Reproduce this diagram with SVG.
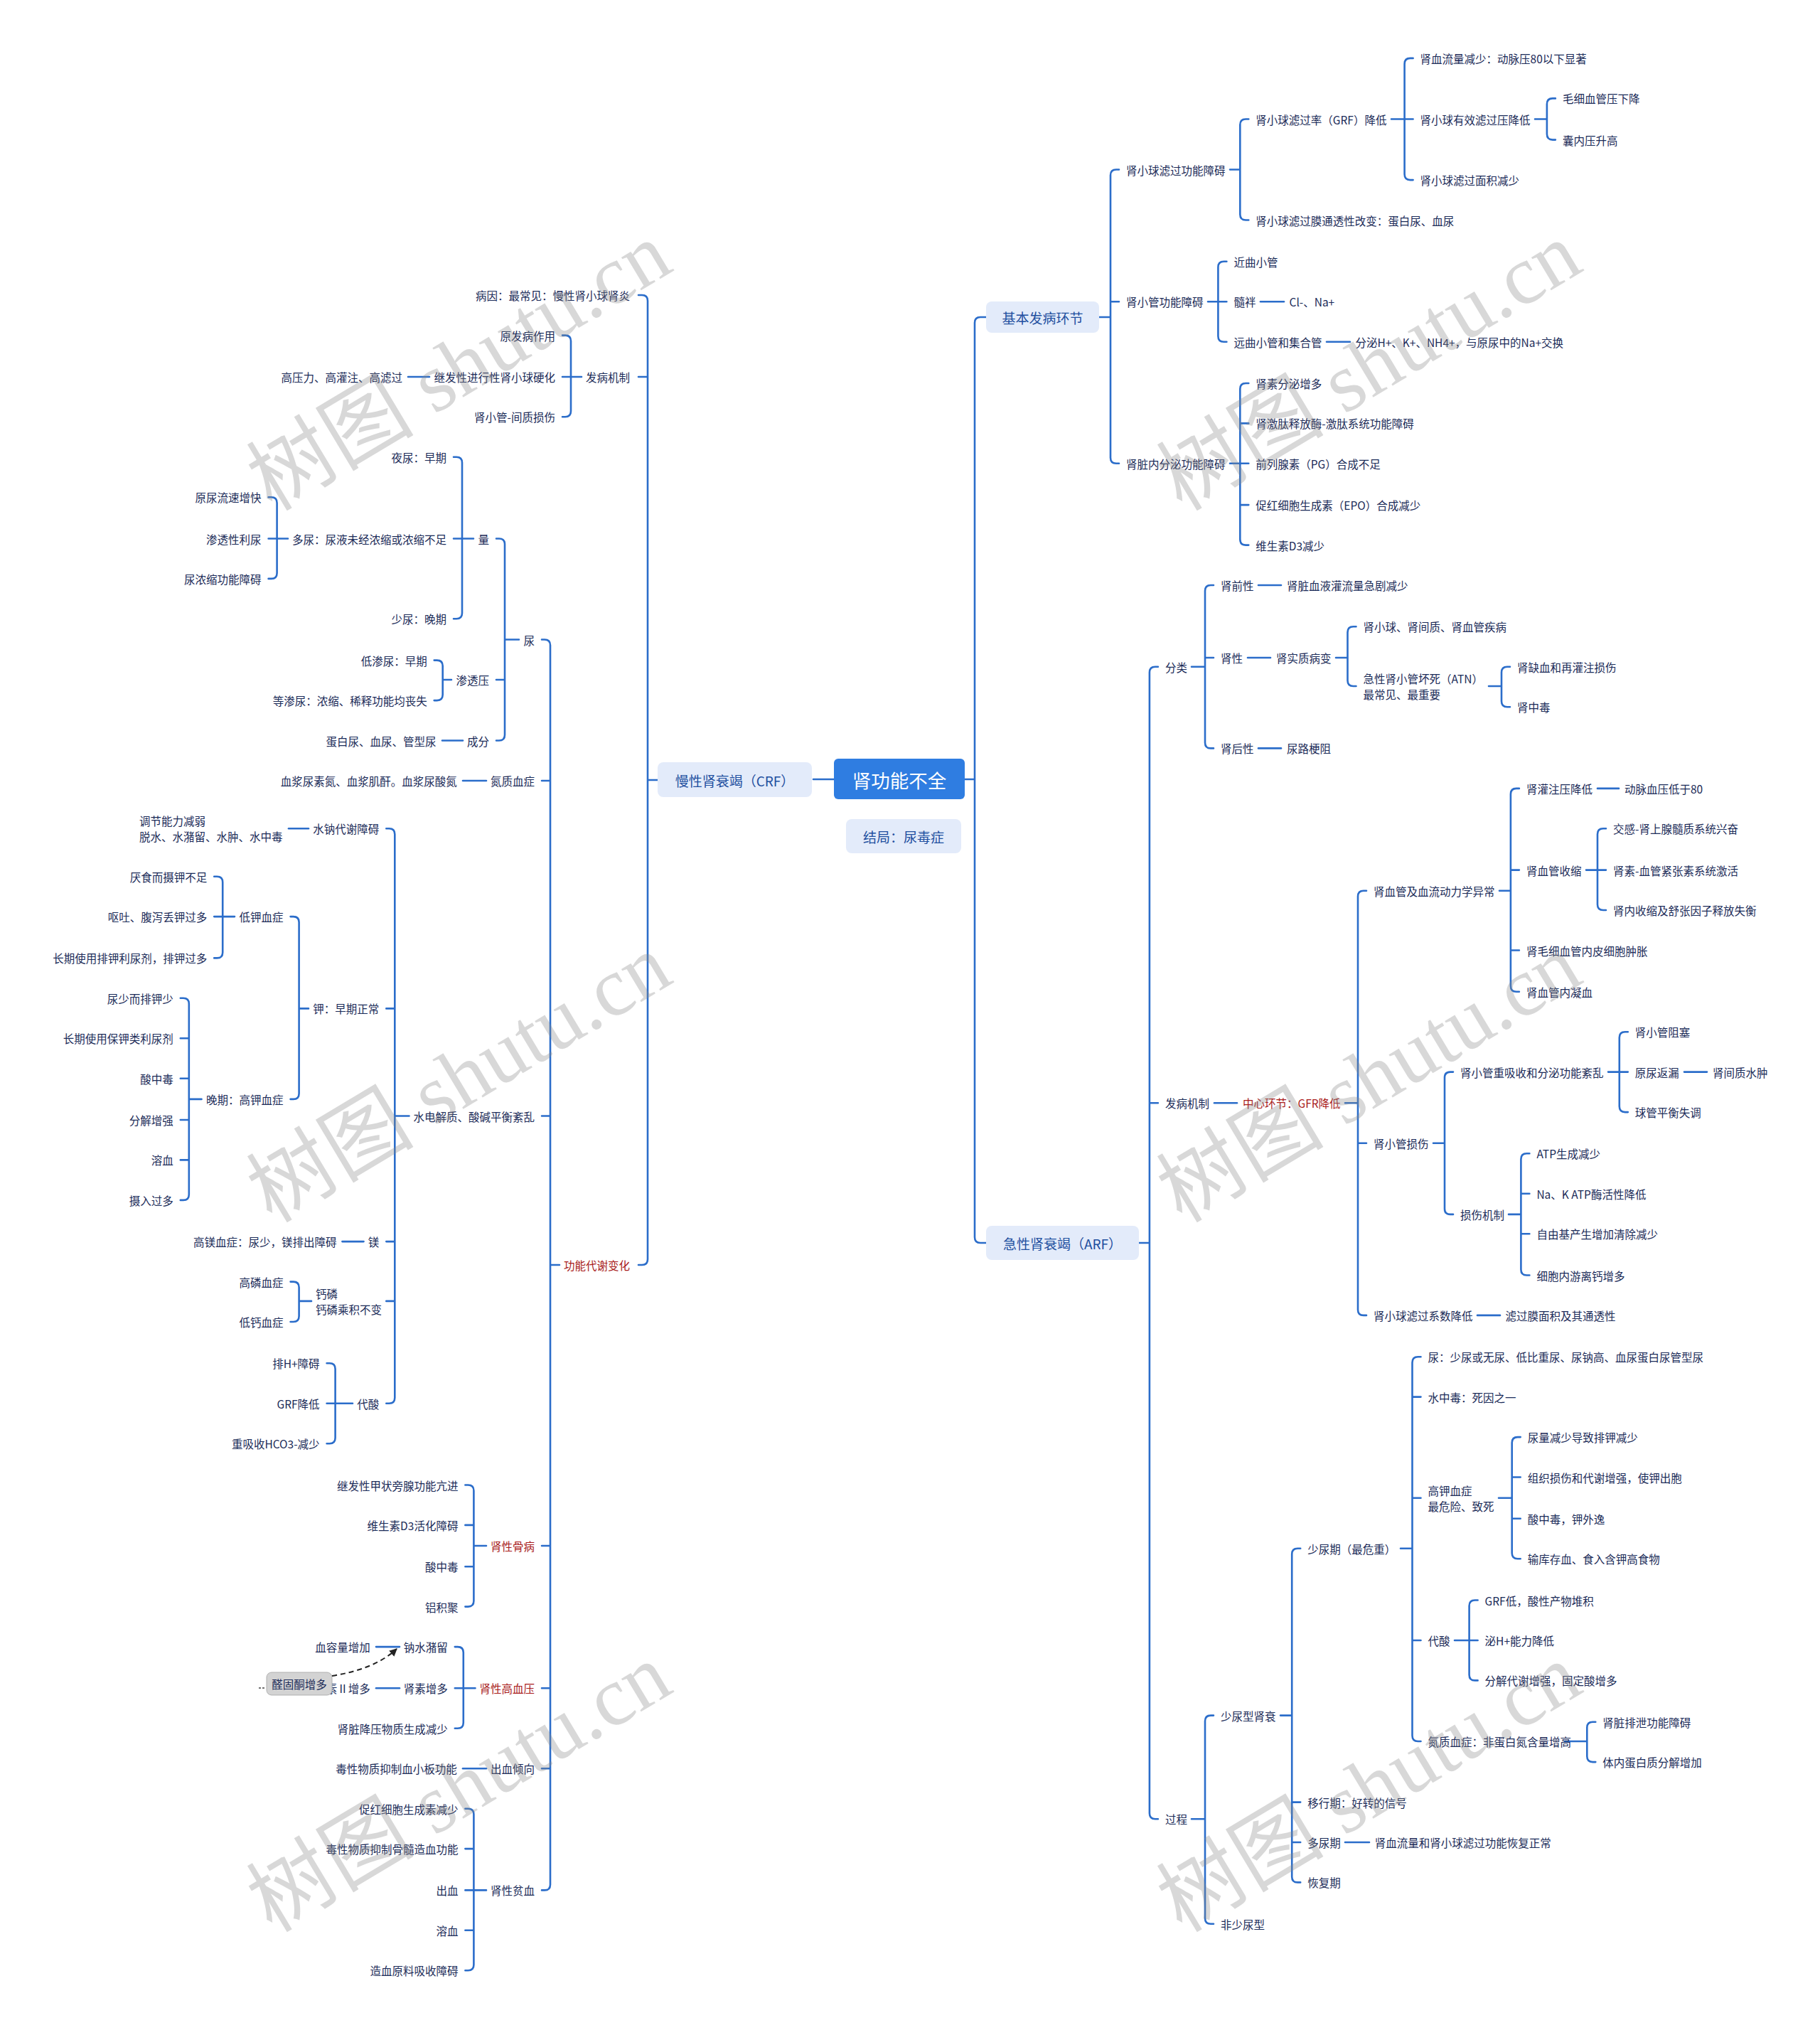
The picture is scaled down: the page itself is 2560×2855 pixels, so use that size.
<svg xmlns="http://www.w3.org/2000/svg" width="2560" height="2855" viewBox="0 0 2560 2855">
<defs>
<style>
.t{font-family:"Noto Sans CJK SC","Noto Sans",sans-serif;font-size:15.5px;fill:#1b2b58;dominant-baseline:central}
.e{text-anchor:end}
.r{fill:#a81b1b}
.c{fill:none;stroke:#2b6dca;stroke-width:2.6;stroke-linecap:round;stroke-linejoin:round}
.bx{fill:#e3ebfa}
.bt{font-family:"Noto Sans CJK SC","Noto Sans",sans-serif;font-size:19px;fill:#1f4f9f;text-anchor:middle;dominant-baseline:central}
.wm{font-family:"Liberation Serif","Noto Sans CJK SC",serif;font-size:118px;fill:#888;fill-opacity:0.33;text-anchor:middle;dominant-baseline:central}
</style>
<marker id="arr" viewBox="0 0 10 10" refX="9" refY="5" markerWidth="11" markerHeight="11" markerUnits="userSpaceOnUse" orient="auto"><path d="M0 0L10 5L0 10z" fill="#222"/></marker>
</defs>
<rect width="2560" height="2855" fill="#fff"/>
<g id="connectors">
<path class="c" d="M1173 1096H1144"/>
<path class="c" d="M925 1097H911M898 415H903Q911 415 911 423V1771Q911 1779 903 1779H898M911 530H898"/>
<path class="c" d="M818 530H803M791 471.6H795Q803 471.6 803 479.6V578.3Q803 586.3 795 586.3H791M803 530H791"/>
<path class="c" d="M604 530H574"/>
<path class="c" d="M787 1779H774M762 899.5H766Q774 899.5 774 907.5V2650.4Q774 2658.4 766 2658.4H762M774 1098H762M774 1569.5H762M774 2174H762M774 2374.3H762M774 2487.2H762"/>
<path class="c" d="M730 899.5H710M698 757.5H702Q710 757.5 710 765.5V1033.5Q710 1041.5 702 1041.5H698M710 956H698"/>
<path class="c" d="M666 757.5H650M638 642.7H642Q650 642.7 650 650.7V862.3Q650 870.3 642 870.3H638M650 757.5H638"/>
<path class="c" d="M405 757.5H389.6M377.6 699.2H381.6Q389.6 699.2 389.6 707.2V805.9Q389.6 813.9 381.6 813.9H377.6M389.6 757.5H377.6"/>
<path class="c" d="M635 956H622.7M610.7 928.6H614.7Q622.7 928.6 622.7 936.6V977.1Q622.7 985.1 614.7 985.1H610.7"/>
<path class="c" d="M651 1041.5H622"/>
<path class="c" d="M684 1098H651"/>
<path class="c" d="M575.5 1569.5H555.3M543.3 1165.3H547.3Q555.3 1165.3 555.3 1173.3V1965.7Q555.3 1973.7 547.3 1973.7H543.3M555.3 1418.4H543.3M555.3 1746.1H543.3M555.3 1829.9H543.3"/>
<path class="c" d="M434 1165.3H406"/>
<path class="c" d="M434 1418.4H420.6M408.6 1289.1H412.6Q420.6 1289.1 420.6 1297.1V1537.9Q420.6 1545.9 412.6 1545.9H408.6"/>
<path class="c" d="M330 1289.1H313.2M301.2 1232.7H305.2Q313.2 1232.7 313.2 1240.7V1339.4Q313.2 1347.4 305.2 1347.4H301.2M313.2 1289.1H301.2"/>
<path class="c" d="M283.5 1545.9H265.8M253.8 1403.8H257.8Q265.8 1403.8 265.8 1411.8V1679.9Q265.8 1687.9 257.8 1687.9H253.8M265.8 1460.3H253.8M265.8 1516.7H253.8M265.8 1575H253.8M265.8 1631.4H253.8"/>
<path class="c" d="M511.5 1746.1H481.4"/>
<path class="c" d="M438 1829.9H420.6M408.6 1802.6H412.6Q420.6 1802.6 420.6 1810.6V1851Q420.6 1859 412.6 1859H408.6"/>
<path class="c" d="M496 1973.7H471.6M459.6 1917.3H463.6Q471.6 1917.3 471.6 1925.3V2022.2Q471.6 2030.2 463.6 2030.2H459.6M471.6 1973.7H459.6"/>
<path class="c" d="M684 2174H666.4M654.4 2088.5H658.4Q666.4 2088.5 666.4 2096.5V2251.6Q666.4 2259.6 658.4 2259.6H654.4M666.4 2144.9H654.4M666.4 2203.2H654.4"/>
<path class="c" d="M668.5 2374.3H651.8M639.8 2316.1H643.8Q651.8 2316.1 651.8 2324.1V2422.8Q651.8 2430.8 643.8 2430.8H639.8M651.8 2374.3H639.8"/>
<path class="c" d="M562 2316.1H529"/>
<path class="c" d="M562 2374.3H529"/>
<path class="c" d="M684 2487.2H651"/>
<path class="c" d="M684 2658.4H666.4M654.4 2543.7H658.4Q666.4 2543.7 666.4 2551.7V2763.3Q666.4 2771.3 658.4 2771.3H654.4M666.4 2600.1H654.4M666.4 2658.4H654.4M666.4 2714.8H654.4"/>
<path class="c" d="M1357 1096H1371M1387 446H1379Q1371 446 1371 454V1740Q1371 1748 1379 1748H1387"/>
<path class="c" d="M1546 446H1562M1574 238.5H1570Q1562 238.5 1562 246.5V643.8Q1562 651.8 1570 651.8H1574M1562 424.2H1574"/>
<path class="c" d="M1730 238.5H1744.3M1756.3 167.5H1752.3Q1744.3 167.5 1744.3 175.5V301.5Q1744.3 309.5 1752.3 309.5H1756.3"/>
<path class="c" d="M1957 167.5H1975.6M1987.6 81.9H1983.6Q1975.6 81.9 1975.6 89.9V245.1Q1975.6 253.1 1983.6 253.1H1987.6M1975.6 167.5H1987.6"/>
<path class="c" d="M2159 167.5H2175.9M2187.9 138.4H2183.9Q2175.9 138.4 2175.9 146.4V188.6Q2175.9 196.6 2183.9 196.6H2187.9"/>
<path class="c" d="M1699 424.2H1713.4M1725.4 367.8H1721.4Q1713.4 367.8 1713.4 375.8V472.7Q1713.4 480.7 1721.4 480.7H1725.4M1713.4 424.2H1725.4"/>
<path class="c" d="M1773 424.2H1806"/>
<path class="c" d="M1866 480.7H1899"/>
<path class="c" d="M1730 651.8H1744.3M1756.3 539H1752.3Q1744.3 539 1744.3 547V758.6Q1744.3 766.6 1752.3 766.6H1756.3M1744.3 595.4H1756.3M1744.3 651.8H1756.3M1744.3 710.1H1756.3"/>
<path class="c" d="M1602 1748H1616.9M1628.9 937.7H1624.9Q1616.9 937.7 1616.9 945.7V2550.2Q1616.9 2558.2 1624.9 2558.2H1628.9M1616.9 1551.3H1628.9"/>
<path class="c" d="M1676 937.7H1695M1707 823H1703Q1695 823 1695 831V1044.4Q1695 1052.4 1703 1052.4H1707M1695 925H1707"/>
<path class="c" d="M1770 823H1802"/>
<path class="c" d="M1755 925H1787"/>
<path class="c" d="M1770 1052.4H1802"/>
<path class="c" d="M1879 925H1895.5M1907.5 881.3H1903.5Q1895.5 881.3 1895.5 889.3V957Q1895.5 965 1903.5 965H1907.5"/>
<path class="c" d="M2094 965H2112M2124 937.7H2120Q2112 937.7 2112 945.7V986.2Q2112 994.2 2120 994.2H2124"/>
<path class="c" d="M1708 1551.3H1740"/>
<path class="c" d="M1892 1551.3H1910M1922 1252.7H1918Q1910 1252.7 1910 1260.7V1841.9Q1910 1849.9 1918 1849.9H1922M1910 1607.8H1922"/>
<path class="c" d="M2109 1252.7H2124.9M2136.9 1108.9H2132.9Q2124.9 1108.9 2124.9 1116.9V1386.7Q2124.9 1394.7 2132.9 1394.7H2136.9M2124.9 1223.6H2136.9M2124.9 1336.5H2136.9"/>
<path class="c" d="M2247 1108.9H2277"/>
<path class="c" d="M2231 1223.6H2247M2259 1165.3H2255Q2247 1165.3 2247 1173.3V1272Q2247 1280 2255 1280H2259M2247 1223.6H2259"/>
<path class="c" d="M2016 1607.8H2032M2044 1507.6H2040Q2032 1507.6 2032 1515.6V1699.9Q2032 1707.9 2040 1707.9H2044"/>
<path class="c" d="M2262 1507.6H2277.8M2289.8 1451.2H2285.8Q2277.8 1451.2 2277.8 1459.2V1556.1Q2277.8 1564.1 2285.8 1564.1H2289.8M2277.8 1507.6H2289.8"/>
<path class="c" d="M2369 1507.6H2401"/>
<path class="c" d="M2122 1707.9H2139.4M2151.4 1622.3H2147.4Q2139.4 1622.3 2139.4 1630.3V1785.5Q2139.4 1793.5 2147.4 1793.5H2151.4M2139.4 1678.8H2151.4M2139.4 1735.2H2151.4"/>
<path class="c" d="M2078 1849.9H2110"/>
<path class="c" d="M1676 2558.2H1695M1707 2412.6H1703Q1695 2412.6 1695 2420.6V2697.7Q1695 2705.7 1703 2705.7H1707"/>
<path class="c" d="M1801 2412.6H1817.2M1829.2 2177.7H1825.2Q1817.2 2177.7 1817.2 2185.7V2639.4Q1817.2 2647.4 1825.2 2647.4H1829.2M1817.2 2534.6H1829.2M1817.2 2591H1829.2"/>
<path class="c" d="M1892 2591H1926"/>
<path class="c" d="M1970 2177.7H1986.5M1998.5 1908.2H1994.5Q1986.5 1908.2 1986.5 1916.2V2441Q1986.5 2449 1994.5 2449H1998.5M1986.5 1964.6H1998.5M1986.5 2106.7H1998.5M1986.5 2307H1998.5"/>
<path class="c" d="M2108 2106.7H2126.7M2138.7 2021.1H2134.7Q2126.7 2021.1 2126.7 2029.1V2184.2Q2126.7 2192.2 2134.7 2192.2H2138.7M2126.7 2077.5H2138.7M2126.7 2135.8H2138.7"/>
<path class="c" d="M2046 2307H2066.6M2078.6 2250.5H2074.6Q2066.6 2250.5 2066.6 2258.5V2355.4Q2066.6 2363.4 2074.6 2363.4H2078.6M2066.6 2307H2078.6"/>
<path class="c" d="M2201 2449H2232.3M2244.3 2421.7H2240.3Q2232.3 2421.7 2232.3 2429.7V2470.1Q2232.3 2478.1 2240.3 2478.1H2244.3"/>
</g>
<g id="root"><rect x="1173" y="1067" width="184" height="57" rx="6" fill="#2f7de1"/><text x="1265" y="1096" style="font-family:'Noto Sans CJK SC',sans-serif;font-size:26.5px;fill:#fff;text-anchor:middle;dominant-baseline:central">肾功能不全</text></g>
<g id="n-crf"><rect class="bx" x="925" y="1072" width="217" height="49" rx="8"/><text class="bt" x="1033.5" y="1097">慢性肾衰竭（CRF）</text></g>
<g id="n-jieju"><rect class="bx" x="1190" y="1152" width="162" height="48" rx="8"/><text class="bt" x="1271" y="1176">结局：尿毒症</text></g>
<g id="n-jbfb"><rect class="bx" x="1387" y="424" width="159" height="44" rx="8"/><text class="bt" x="1466.5" y="446">基本发病环节</text></g>
<g id="n-arf"><rect class="bx" x="1387" y="1724" width="215" height="48" rx="8"/><text class="bt" x="1494.5" y="1748">急性肾衰竭（ARF）</text></g>
<g id="n-bingyin"><text class="t e" x="886" y="415.1">病因：最常见：慢性肾小球肾炎</text></g>
<g id="n-fbjz"><text class="t e" x="886" y="529.9">发病机制</text></g>
<g id="n-gndx"><text class="t e r" x="886" y="1778.9">功能代谢变化</text></g>
<g id="n-yfb"><text class="t e" x="781" y="471.6">原发病作用</text></g>
<g id="n-jfx"><text class="t e" x="781" y="529.9">继发性进行性肾小球硬化</text></g>
<g id="n-xgjz"><text class="t e" x="781" y="586.3">肾小管-间质损伤</text></g>
<g id="n-gyl"><text class="t e" x="566" y="529.9">高压力、高灌注、高滤过</text></g>
<g id="n-niao"><text class="t e" x="752" y="899.5">尿</text></g>
<g id="n-dzxz"><text class="t e" x="752" y="1097.9">氮质血症</text></g>
<g id="n-sdj"><text class="t e" x="752" y="1569.5">水电解质、酸碱平衡紊乱</text></g>
<g id="n-xxgb"><text class="t e r" x="752" y="2174">肾性骨病</text></g>
<g id="n-xxgxy"><text class="t e r" x="752" y="2374.3">肾性高血压</text></g>
<g id="n-cxqx"><text class="t e" x="752" y="2487.2">出血倾向</text></g>
<g id="n-xxpx"><text class="t e" x="752" y="2658.4">肾性贫血</text></g>
<g id="n-liang"><text class="t e" x="688" y="757.5">量</text></g>
<g id="n-styl"><text class="t e" x="688" y="955.9">渗透压</text></g>
<g id="n-cf"><text class="t e" x="688" y="1041.5">成分</text></g>
<g id="n-yn"><text class="t e" x="628" y="642.7">夜尿：早期</text></g>
<g id="n-dn"><text class="t e" x="628" y="757.5">多尿：尿液未经浓缩或浓缩不足</text></g>
<g id="n-sn"><text class="t e" x="628" y="870.3">少尿：晚期</text></g>
<g id="n-yls"><text class="t e" x="367.6" y="699.2">原尿流速增快</text></g>
<g id="n-stx"><text class="t e" x="367.6" y="757.5">渗透性利尿</text></g>
<g id="n-nns"><text class="t e" x="367.6" y="813.9">尿浓缩功能障碍</text></g>
<g id="n-dsn"><text class="t e" x="600.7" y="928.6">低渗尿：早期</text></g>
<g id="n-dsn2"><text class="t e" x="600.7" y="985.1">等渗尿：浓缩、稀释功能均丧失</text></g>
<g id="n-dbn"><text class="t e" x="613.6" y="1041.5">蛋白尿、血尿、管型尿</text></g>
<g id="n-xjns"><text class="t e" x="642.7" y="1097.9">血浆尿素氮、血浆肌酐。血浆尿酸氮</text></g>
<g id="n-snd"><text class="t e" x="533.3" y="1165.3">水钠代谢障碍</text></g>
<g id="n-jia"><text class="t e" x="533.3" y="1418.4">钾：早期正常</text></g>
<g id="n-mei"><text class="t e" x="533.3" y="1746.1">镁</text></g>
<g id="n-gl"><text class="t" x="444" y="1819">钙磷</text><text class="t" x="444" y="1841">钙磷乘积不变</text></g>
<g id="n-ds"><text class="t e" x="533.3" y="1973.7">代酸</text></g>
<g id="n-tjnl"><text class="t" x="196" y="1154">调节能力减弱</text><text class="t" x="196" y="1176">脱水、水潴留、水肿、水中毒</text></g>
<g id="n-djxz"><text class="t e" x="398.6" y="1289.1">低钾血症</text></g>
<g id="n-wqgj"><text class="t e" x="398.6" y="1545.9">晚期：高钾血症</text></g>
<g id="n-ys"><text class="t e" x="291.2" y="1232.7">厌食而摄钾不足</text></g>
<g id="n-ot"><text class="t e" x="291.2" y="1289.1">呕吐、腹泻丢钾过多</text></g>
<g id="n-cqpj"><text class="t e" x="291.2" y="1347.4">长期使用排钾利尿剂，排钾过多</text></g>
<g id="n-nspj"><text class="t e" x="243.8" y="1403.8">尿少而排钾少</text></g>
<g id="n-cqbj"><text class="t e" x="243.8" y="1460.3">长期使用保钾类利尿剂</text></g>
<g id="n-szd1"><text class="t e" x="243.8" y="1516.7">酸中毒</text></g>
<g id="n-fjzq"><text class="t e" x="243.8" y="1575">分解增强</text></g>
<g id="n-rx1"><text class="t e" x="243.8" y="1631.4">溶血</text></g>
<g id="n-srgd"><text class="t e" x="243.8" y="1687.9">摄入过多</text></g>
<g id="n-gmxz"><text class="t e" x="473.4" y="1746.1">高镁血症：尿少，镁排出障碍</text></g>
<g id="n-glxz"><text class="t e" x="398.6" y="1802.6">高磷血症</text></g>
<g id="n-dgxz"><text class="t e" x="398.6" y="1859">低钙血症</text></g>
<g id="n-phz"><text class="t e" x="449.6" y="1917.3">排H+障碍</text></g>
<g id="n-grfjd"><text class="t e" x="449.6" y="1973.7">GRF降低</text></g>
<g id="n-hco3"><text class="t e" x="449.6" y="2030.2">重吸收HCO3-减少</text></g>
<g id="n-jfxj"><text class="t e" x="644.4" y="2088.5">继发性甲状旁腺功能亢进</text></g>
<g id="n-wss"><text class="t e" x="644.4" y="2144.9">维生素D3活化障碍</text></g>
<g id="n-szd2"><text class="t e" x="644.4" y="2203.2">酸中毒</text></g>
<g id="n-ljj"><text class="t e" x="644.4" y="2259.6">铝积聚</text></g>
<g id="n-nszl"><text class="t e" x="629.8" y="2316.1">钠水潴留</text></g>
<g id="n-sszd"><text class="t e" x="629.8" y="2374.3">肾素增多</text></g>
<g id="n-jyss"><text class="t e" x="629.8" y="2430.8">肾脏降压物质生成减少</text></g>
<g id="n-xrl"><text class="t e" x="520.7" y="2316.1">血容量增加</text></g>
<g id="n-xgjzs"><text class="t e" x="520.7" y="2374.3">血管紧张素Ⅱ增多</text></g>
<g id="n-qgt"><path d="M364 2374H374" stroke="#444" stroke-width="1.5" stroke-dasharray="3 2" fill="none"/><rect x="375" y="2352" width="92" height="32" rx="7" fill="#d3d3d3" stroke="#b0b0b0" stroke-width="1"/><text class="t" x="421" y="2368" style="text-anchor:middle">醛固酮增多</text></g>
<g id="rel"><path d="M467 2357C503 2351 534 2341 558 2319" fill="none" stroke="#222" stroke-width="2" stroke-dasharray="7 5" marker-end="url(#arr)"/></g>
<g id="n-dxwz"><text class="t e" x="642.7" y="2487.2">毒性物质抑制血小板功能</text></g>
<g id="n-chxb"><text class="t e" x="644.4" y="2543.7">促红细胞生成素减少</text></g>
<g id="n-dxgs"><text class="t e" x="644.4" y="2600.1">毒性物质抑制骨髓造血功能</text></g>
<g id="n-cx"><text class="t e" x="644.4" y="2658.4">出血</text></g>
<g id="n-rx2"><text class="t e" x="644.4" y="2714.8">溶血</text></g>
<g id="n-zxyl"><text class="t e" x="644.4" y="2771.3">造血原料吸收障碍</text></g>
<g id="n-xqgl"><text class="t" x="1584" y="238.5">肾小球滤过功能障碍</text></g>
<g id="n-xxggn"><text class="t" x="1584" y="424.2">肾小管功能障碍</text></g>
<g id="n-nfm"><text class="t" x="1584" y="651.8">肾脏内分泌功能障碍</text></g>
<g id="n-grf"><text class="t" x="1766.3" y="167.5">肾小球滤过率（GRF）降低</text></g>
<g id="n-tmtx"><text class="t" x="1766.3" y="309.5">肾小球滤过膜通透性改变：蛋白尿、血尿</text></g>
<g id="n-xll"><text class="t" x="1997.6" y="81.9">肾血流量减少：动脉压80以下显著</text></g>
<g id="n-yxgl"><text class="t" x="1997.6" y="167.5">肾小球有效滤过压降低</text></g>
<g id="n-glmj"><text class="t" x="1997.6" y="253.1">肾小球滤过面积减少</text></g>
<g id="n-mxxg"><text class="t" x="2197.9" y="138.4">毛细血管压下降</text></g>
<g id="n-nny"><text class="t" x="2197.9" y="196.6">囊内压升高</text></g>
<g id="n-jqxg"><text class="t" x="1735.4" y="367.8">近曲小管</text></g>
<g id="n-sp"><text class="t" x="1735.4" y="424.2">髓袢</text></g>
<g id="n-yqxg"><text class="t" x="1735.4" y="480.7">远曲小管和集合管</text></g>
<g id="n-clna"><text class="t" x="1813.5" y="424.2">Cl-、Na+</text></g>
<g id="n-fm"><text class="t" x="1906.4" y="480.7">分泌H+、K+、NH4+，与原尿中的Na+交换</text></g>
<g id="n-sfm"><text class="t" x="1766.3" y="539">肾素分泌增多</text></g>
<g id="n-jtsf"><text class="t" x="1766.3" y="595.4">肾激肽释放酶-激肽系统功能障碍</text></g>
<g id="n-pg"><text class="t" x="1766.3" y="651.8">前列腺素（PG）合成不足</text></g>
<g id="n-epo"><text class="t" x="1766.3" y="710.1">促红细胞生成素（EPO）合成减少</text></g>
<g id="n-wsd"><text class="t" x="1766.3" y="766.6">维生素D3减少</text></g>
<g id="n-fl"><text class="t" x="1638.9" y="937.7">分类</text></g>
<g id="n-fbjz2"><text class="t" x="1638.9" y="1551.3">发病机制</text></g>
<g id="n-gc"><text class="t" x="1638.9" y="2558.2">过程</text></g>
<g id="n-sqx"><text class="t" x="1717" y="823">肾前性</text></g>
<g id="n-sx"><text class="t" x="1717" y="925">肾性</text></g>
<g id="n-shx"><text class="t" x="1717" y="1052.4">肾后性</text></g>
<g id="n-gll"><text class="t" x="1810" y="823">肾脏血液灌流量急剧减少</text></g>
<g id="n-szbb"><text class="t" x="1795" y="925">肾实质病变</text></g>
<g id="n-nlgz"><text class="t" x="1810" y="1052.4">尿路梗阻</text></g>
<g id="n-xqjb"><text class="t" x="1917.5" y="881.3">肾小球、肾间质、肾血管疾病</text></g>
<g id="n-atn"><text class="t" x="1917.5" y="954">急性肾小管坏死（ATN）</text><text class="t" x="1917.5" y="976">最常见、最重要</text></g>
<g id="n-qxzg"><text class="t" x="2134" y="937.7">肾缺血和再灌注损伤</text></g>
<g id="n-szd"><text class="t" x="2134" y="994.2">肾中毒</text></g>
<g id="n-zxhj"><text class="t r" x="1748" y="1551.3">中心环节：GFR降低</text></g>
<g id="n-xgjxl"><text class="t" x="1932" y="1252.7">肾血管及血流动力学异常</text></g>
<g id="n-xgss"><text class="t" x="1932" y="1607.8">肾小管损伤</text></g>
<g id="n-glxs"><text class="t" x="1932" y="1849.9">肾小球滤过系数降低</text></g>
<g id="n-gzy"><text class="t" x="2146.9" y="1108.9">肾灌注压降低</text></g>
<g id="n-xgsx"><text class="t" x="2146.9" y="1223.6">肾血管收缩</text></g>
<g id="n-mxnp"><text class="t" x="2146.9" y="1336.5">肾毛细血管内皮细胞肿胀</text></g>
<g id="n-nnx"><text class="t" x="2146.9" y="1394.7">肾血管内凝血</text></g>
<g id="n-dmxy"><text class="t" x="2285" y="1108.9">动脉血压低于80</text></g>
<g id="n-jg"><text class="t" x="2269" y="1165.3">交感-肾上腺髓质系统兴奋</text></g>
<g id="n-ss"><text class="t" x="2269" y="1223.6">肾素-血管紧张素系统激活</text></g>
<g id="n-nsx"><text class="t" x="2269" y="1280">肾内收缩及舒张因子释放失衡</text></g>
<g id="n-cxs"><text class="t" x="2054" y="1507.6">肾小管重吸收和分泌功能紊乱</text></g>
<g id="n-ssjz"><text class="t" x="2054" y="1707.9">损伤机制</text></g>
<g id="n-xgzs"><text class="t" x="2299.8" y="1451.2">肾小管阻塞</text></g>
<g id="n-ynfl"><text class="t" x="2299.8" y="1507.6">原尿返漏</text></g>
<g id="n-qgph"><text class="t" x="2299.8" y="1564.1">球管平衡失调</text></g>
<g id="n-sjz"><text class="t" x="2409" y="1507.6">肾间质水肿</text></g>
<g id="n-atp"><text class="t" x="2161.4" y="1622.3">ATP生成减少</text></g>
<g id="n-nak"><text class="t" x="2161.4" y="1678.8">Na、K ATP酶活性降低</text></g>
<g id="n-zyj"><text class="t" x="2161.4" y="1735.2">自由基产生增加清除减少</text></g>
<g id="n-xbn"><text class="t" x="2161.4" y="1793.5">细胞内游离钙增多</text></g>
<g id="n-glm"><text class="t" x="2117.6" y="1849.9">滤过膜面积及其通透性</text></g>
<g id="n-snxs"><text class="t" x="1717" y="2412.6">少尿型肾衰</text></g>
<g id="n-fsnx"><text class="t" x="1717" y="2705.7">非少尿型</text></g>
<g id="n-snq"><text class="t" x="1839.2" y="2177.7">少尿期（最危重）</text></g>
<g id="n-yxq"><text class="t" x="1839.2" y="2534.6">移行期：好转的信号</text></g>
<g id="n-dnq"><text class="t" x="1839.2" y="2591">多尿期</text></g>
<g id="n-hfq"><text class="t" x="1839.2" y="2647.4">恢复期</text></g>
<g id="n-xllhf"><text class="t" x="1933.7" y="2591">肾血流量和肾小球滤过功能恢复正常</text></g>
<g id="n-niao2"><text class="t" x="2008.5" y="1908.2">尿：少尿或无尿、低比重尿、尿钠高、血尿蛋白尿管型尿</text></g>
<g id="n-szd3"><text class="t" x="2008.5" y="1964.6">水中毒：死因之一</text></g>
<g id="n-gjxz"><text class="t" x="2008.5" y="2095.7">高钾血症</text><text class="t" x="2008.5" y="2117.7">最危险、致死</text></g>
<g id="n-ds2"><text class="t" x="2008.5" y="2307">代酸</text></g>
<g id="n-dzxz2"><text class="t" x="2008.5" y="2449">氮质血症：非蛋白氮含量增高</text></g>
<g id="n-nljs"><text class="t" x="2148.7" y="2021.1">尿量减少导致排钾减少</text></g>
<g id="n-zzss"><text class="t" x="2148.7" y="2077.5">组织损伤和代谢增强，使钾出胞</text></g>
<g id="n-szdj"><text class="t" x="2148.7" y="2135.8">酸中毒，钾外逸</text></g>
<g id="n-skcx"><text class="t" x="2148.7" y="2192.2">输库存血、食入含钾高食物</text></g>
<g id="n-grfd"><text class="t" x="2088.6" y="2250.5">GRF低，酸性产物堆积</text></g>
<g id="n-mh"><text class="t" x="2088.6" y="2307">泌H+能力降低</text></g>
<g id="n-fjdx"><text class="t" x="2088.6" y="2363.4">分解代谢增强，固定酸增多</text></g>
<g id="n-szpx"><text class="t" x="2254.3" y="2421.7">肾脏排泄功能障碍</text></g>
<g id="n-tndb"><text class="t" x="2254.3" y="2478.1">体内蛋白质分解增加</text></g>
<g id="watermark">
<text class="wm" transform="translate(646 516) rotate(-31)">树图 shutu.cn</text>
<text class="wm" transform="translate(646 1517) rotate(-31)">树图 shutu.cn</text>
<text class="wm" transform="translate(646 2515) rotate(-31)">树图 shutu.cn</text>
<text class="wm" transform="translate(1926 516) rotate(-31)">树图 shutu.cn</text>
<text class="wm" transform="translate(1926 1517) rotate(-31)">树图 shutu.cn</text>
<text class="wm" transform="translate(1926 2515) rotate(-31)">树图 shutu.cn</text>
</g>
</svg>
